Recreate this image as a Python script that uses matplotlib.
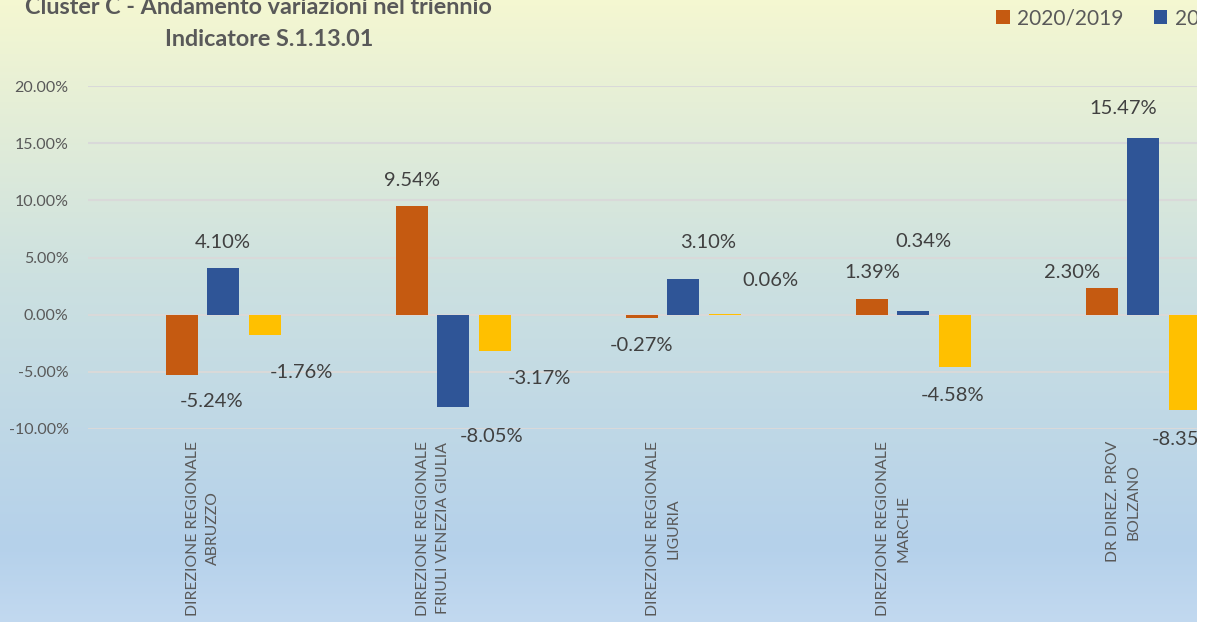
import matplotlib.pyplot as plt
import numpy as np
from matplotlib.patches import Rectangle, Patch

# ---- data ----
categories = [
    "DIREZIONE REGIONALE\nABRUZZO",
    "DIREZIONE REGIONALE\nFRIULI VENEZIA GIULIA",
    "DIREZIONE REGIONALE\nLIGURIA",
    "DIREZIONE REGIONALE\nMARCHE",
    "DR DIREZ. PROV\nBOLZANO",
]
series_names = ["2020/2019", "2021/2020", "2022/2021"]
var_2020_2019 = [-5.24, 9.54, -0.27, 1.39, 2.30]
var_2021_2020 = [4.10, -8.05, 3.10, 0.34, 15.47]
var_2022_2021 = [-1.76, -3.17, 0.06, -4.58, -8.35]
y_ticks = [-10, -5, 0, 5, 10, 15, 20]

# label offsets (pixels) from bar end, as dragged in the original chart
label_offsets = [
    [(29, -27), (0, 25), (-1, -28), (0, 26), (-30, 16)],
    [(-1, 25), (38, -30), (25, 37), (10, 69), (-20, 29)],
    [(37, -38), (45, -28), (46, 33), (-2, -28), (-1, -29)],
]

colors = ["#C55A11", "#2F5597", "#FFC000"]
text_gray = "#595959"
font = ["Lato", "DejaVu Sans"]
plt.rcParams["font.family"] = font

W, H = 1209, 622
fig = plt.figure(figsize=(W / 100, H / 100), dpi=100)

# ---- gradient background (top row of the image = top of the figure) ----
bg = fig.add_axes([0, 0, 1, 1], zorder=-1)
stops = [0.0, 0.45, 0.88, 1.0]
cols = np.array([[0.96, 0.97, 0.82], [0.80, 0.88, 0.88],
                 [0.71, 0.82, 0.92], [0.76, 0.85, 0.94]])
t = np.linspace(0, 1, 300)
grad = np.stack([np.interp(t, stops, cols[:, c]) for c in range(3)], axis=1)
bg.imshow(grad[:, None, :], aspect="auto", extent=[0, 1, 0, 1], origin="upper")
bg.axis("off")

# ---- main axes (plot area runs past the right edge of the picture) ----
left, right = 88, 1238
top, bottom = 86, 429
ax = fig.add_axes([left / W, (H - bottom) / H, (right - left) / W, (bottom - top) / H])
ax.set_facecolor("none")

x = np.arange(len(categories))
bar_w = 0.139
shift = 0.089
series = [var_2020_2019, var_2021_2020, var_2022_2021]
for k, vals in enumerate(series):
    xs = x + shift + (k - 1) * 0.18
    ax.bar(xs, vals, width=bar_w, color=colors[k], label=series_names[k], zorder=3)
    for i, v in enumerate(vals):
        dx, dy = label_offsets[k][i]
        ax.annotate(f"{v:.2f}%", (xs[i], v), xytext=(dx, dy),
                    textcoords="offset pixels", ha="center", va="center",
                    fontsize=14.5, color="#404040", zorder=4)

ax.set_xlim(-0.5, len(categories) - 0.5)
ax.set_ylim(-10, 20)
ax.set_yticks(y_ticks)
ax.set_yticklabels([f"{v:.2f}%" for v in y_ticks], fontsize=11.5, color=text_gray)
ax.yaxis.grid(True, color="#D9D9D9", linewidth=1.5, zorder=0)
ax.tick_params(axis="y", length=0, pad=14)
ax.tick_params(axis="x", length=0)
ax.set_xticks([])
for s in ax.spines.values():
    s.set_visible(False)

for i, cat in enumerate(categories):
    ax.annotate(cat, (i, 0), xycoords=("data", "axes fraction"),
                xytext=(0, -12), textcoords="offset pixels",
                rotation=90, ha="center", va="top", multialignment="center",
                linespacing=1.55, fontsize=11.3, color=text_gray)

# ---- title (top line cut by the crop) ----
fig.text(258 / W, 1 - 8 / H, "Cluster C - Andamento variazioni nel triennio",
         ha="center", va="center", fontsize=16.8, fontweight="bold", color=text_gray)
fig.text(269 / W, 1 - 40 / H, "Indicatore S.1.13.01",
         ha="center", va="center", fontsize=16.8, fontweight="bold", color=text_gray)

# ---- legend ----
handles = [Patch(facecolor=c) for c in colors]
fig.legend(handles, series_names, loc="upper left", bbox_to_anchor=(990 / W, 1 - 2 / H),
           ncol=3, frameon=False, fontsize=15, handlelength=0.65, handleheight=0.65,
           handletextpad=0.35, columnspacing=1.45, labelcolor=text_gray,
           borderaxespad=0, borderpad=0.3)

# white strip where the screenshot was cropped
fig.add_artist(Rectangle((1197 / W, 0), 12 / W, 1, transform=fig.transFigure,
                         facecolor="white", edgecolor="none", zorder=10))

fig.savefig("out.png", dpi=100)
